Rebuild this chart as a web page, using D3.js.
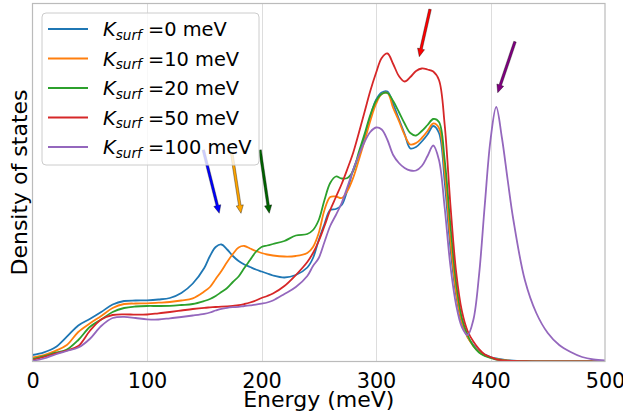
<!DOCTYPE html>
<html><head><meta charset="utf-8">
<script src="https://cdn.jsdelivr.net/npm/d3@7"></script>
<style>
body{margin:0;background:#fff}
svg{display:block}
text{font-family:"DejaVu Sans",sans-serif;fill:#000}
</style>
</head><body>
<svg id="chart" width="623" height="420"></svg>
<script>
// ---------- data (arbitrary DOS units) ----------
const energy = [0,10,20,30,40,50,60,70,80,90,100,110,120,130,140,150,155,160,165,170,175,180,185,190,195,200,205,210,220,230,240,245,250,255,260,265,270,275,280,285,290,295,300,305,310,315,320,325,330,335,340,345,350,355,360,365,370,375,380,385,390,395,400,405,410,415,420,430,440,450,460,470,480,490,500];

const dosK0 = [6.5,9.2,14.2,24.8,36,42.5,49.5,57,60.5,61,61.2,62,63.5,68.5,78,93.5,105.5,114.5,117,112,105.5,100.5,97,94.5,92,90,88,86,84,86.5,94,103.5,121.5,137.5,151.5,152.5,156.5,171.5,191.5,206.5,224.5,244.5,261.5,269,270,257.5,242.5,227.5,213,214.5,220,227,235.5,228.5,179.5,113.5,66.5,38.5,24.5,16.5,10.5,7,4.5,3,2,1.3,0.9,0.5,0.2,0.1,0,0,0,0,0];

const dosK10 = [4.2,6.5,10.7,16.5,29.5,38,45.5,53.5,57.5,58,58.2,58.8,59.5,61,63.2,70,74.5,82.5,90.5,99.5,107.5,114,115.5,113,110.5,108.5,107,106,105,105.5,108.5,114.5,128.5,151.5,164.5,165,163.5,170.5,183.5,201.5,220.5,240.5,257.5,267.5,268.5,253.5,240.5,226.5,217,218.5,223.5,230.5,238,233.5,189.5,121.5,69.5,39.5,24.5,15.5,9.5,6,4,2.5,1.5,1,0.5,0.3,0.1,0,0,0,0,0,0];

const dosK20 = [2.5,5.5,8.8,12,21.5,34.5,42,49.5,53.5,55,55.5,55.5,55.7,56.5,57.5,60.5,62.5,65.5,69.5,73.5,79.5,85,93.5,101.5,109.5,114.5,116,117.5,120.5,126,127.5,131.5,141.5,161.5,178.5,185,183,183.5,190.5,209.5,227.5,246.5,260.5,267.5,268.5,260.5,249.5,238,228.5,226,230.5,236.5,242.5,239.5,201.5,136.5,78.5,43.5,26.5,15.5,9,5.5,3.5,2,1.2,0.7,0.5,0.3,0.1,0,0,0,0,0,0];

const dosK50 = [1.5,4.5,8,11,15.5,30.5,42,46.5,47.2,46.8,47,48.2,49.5,51,52.5,53.7,54.1,54.5,54.8,55.2,55.7,56.3,57.5,59,61,63.5,65.5,68,75.5,86.5,99.5,108.5,120.5,135.5,151.5,164.5,177.5,192.5,208.5,228.5,249.5,270.5,288.5,303.5,308,297.5,285.5,280,284.5,290.5,293,292,290,281.5,236.5,156.5,89.5,50.5,30.5,20,12.5,7,4.5,2.2,1.2,0.7,0.5,0.3,0.1,0,0,0,0,0,0];

const dosK100 = [0.5,3,7,10.5,14,22.5,35.5,43.5,44.7,43.5,42.2,42,43.2,44.5,46,47.7,49,51,52.7,53.7,54.3,54.7,55.5,56.1,56.8,57.8,59,61,67.5,74.5,85.5,95.5,103.5,119.5,135.5,146.5,158.5,174.5,191.5,206.5,219.5,229.5,234,232,221.5,206.5,198.5,193.5,191,191,195.5,205.5,216,201.5,153.5,95.5,56.5,34.5,26.5,41.5,86.5,156.5,221.5,254.5,223.5,181.5,141.5,81.5,48.5,28.5,16.5,9.5,4.5,2,1];

const kSurfValues = ["0", "10", "20", "50", "100"];
const xTickValues = [0, 100, 200, 300, 400, 500];

// annotation arrows: tip (energy, dos) and tail (energy, dos)
const arrowTipE   = [163.1, 182.1, 206.8, 337.8, 406.3];
const arrowTipDos = [148.2, 148.2, 148.2, 304.8, 268.8];
const arrowTailE  = [149.2, 174.0, 198.7, 347.2, 421.4];
const arrowTailDos= [211.5, 208.2, 211.5, 352.2, 319.8];

// ---------- styles ----------
const lineColors  = ["#1f77b4", "#ff7f0e", "#2ca02c", "#d62728", "#9467bd"];
const arrowColors = ["#0000ff", "#ffa500", "#006400", "#ff0000", "#800080"];

const series = [dosK0, dosK10, dosK20, dosK50, dosK100];

const svg = d3.select("#chart");
const plot = {left: 32.5, right: 605, top: 3.5, bottom: 361.5};

const x = d3.scaleLinear().domain([0, 500]).range([plot.left, plot.right]);
const y = d3.scaleLinear().domain([0, 358]).range([plot.bottom, plot.top]);

svg.append("defs").append("clipPath").attr("id", "clip")
  .append("rect").attr("x", plot.left).attr("y", plot.top)
  .attr("width", plot.right - plot.left).attr("height", plot.bottom - plot.top);

// grid
svg.append("g").selectAll("line").data(xTickValues.slice(1, -1)).join("line")
  .attr("x1", d => Math.round(x(d)) + 0.5).attr("x2", d => Math.round(x(d)) + 0.5)
  .attr("y1", plot.top).attr("y2", plot.bottom)
  .attr("stroke", "#dddddd").attr("stroke-width", 1);

// curves
const line = d3.line()
  .x((d, i) => x(energy[i]))
  .y(d => y(d))
  .curve(d3.curveCatmullRom.alpha(0.5));

svg.append("g").attr("clip-path", "url(#clip)")
  .selectAll("path").data(series).join("path")
  .attr("d", d => line(d))
  .attr("fill", "none")
  .attr("stroke", (d, i) => lineColors[i])
  .attr("stroke-width", 1.8)
  .attr("stroke-linejoin", "round");

// spines
svg.append("rect")
  .attr("x", plot.left).attr("y", plot.top)
  .attr("width", plot.right - plot.left).attr("height", plot.bottom - plot.top)
  .attr("fill", "none").attr("stroke", "#bbbbbb").attr("stroke-width", 1.2);

// arrows
function arrowPath(x1, y1, x2, y2) {
  const dx = x2 - x1, dy = y2 - y1, L = Math.hypot(dx, dy);
  const ux = dx / L, uy = dy / L, px = -uy, py = ux;
  const sw = 1.3, hw = 3.6, hl = 8;
  const bx = x2 - ux * hl, by = y2 - uy * hl;
  const pts = [
    [x1 + px * sw, y1 + py * sw],
    [bx + px * sw, by + py * sw],
    [bx + px * hw, by + py * hw],
    [x2, y2],
    [bx - px * hw, by - py * hw],
    [bx - px * sw, by - py * sw],
    [x1 - px * sw, y1 - py * sw]
  ];
  return "M" + pts.map(p => p.join(",")).join("L") + "Z";
}
svg.append("g").selectAll("path").data(arrowTipE).join("path")
  .attr("d", (d, i) => arrowPath(x(arrowTailE[i]), y(arrowTailDos[i]), x(arrowTipE[i]), y(arrowTipDos[i])))
  .attr("fill", (d, i) => arrowColors[i])
  .attr("stroke", "#000").attr("stroke-opacity", 0.6).attr("stroke-width", 0.6);

// x axis
const xAxis = d3.axisBottom(x).tickValues(xTickValues).tickSize(0).tickPadding(12.2).tickFormat(d3.format("d"));
const gx = svg.append("g").attr("transform", `translate(0,${plot.bottom})`).call(xAxis);
gx.select(".domain").remove();
gx.selectAll("text").attr("font-size", 20.8).attr("font-family", "DejaVu Sans").attr("fill", "#000");

// axis labels
svg.append("text").attr("x", (plot.left + plot.right) / 2).attr("y", 407)
  .attr("text-anchor", "middle").attr("font-size", 22).text("Energy (meV)");
svg.append("text").attr("transform", `translate(27,${(plot.top + plot.bottom) / 2}) rotate(-90)`)
  .attr("text-anchor", "middle").attr("font-size", 22).text("Density of states");

// legend
const lg = svg.append("g");
lg.append("rect").attr("x", 42).attr("y", 13).attr("width", 217).attr("height", 152)
  .attr("rx", 4).attr("fill", "#fff").attr("fill-opacity", 0.8)
  .attr("stroke", "#cccccc").attr("stroke-width", 1);
kSurfValues.forEach((k, i) => {
  const cy = 29 + i * 29.5;
  lg.append("line").attr("x1", 48).attr("x2", 88).attr("y1", cy).attr("y2", cy)
    .attr("stroke", lineColors[i]).attr("stroke-width", 1.8);
  const t = lg.append("text").attr("x", 103).attr("y", cy + 7).attr("font-size", 19.4);
  t.append("tspan").attr("font-style", "italic").text("K");
  t.append("tspan").attr("font-style", "italic").attr("font-size", 13.6).attr("dy", 3.5).text("surf");
  t.append("tspan").attr("dy", -3.5).text(" =" + k + " meV");
});
</script>
</body></html>
